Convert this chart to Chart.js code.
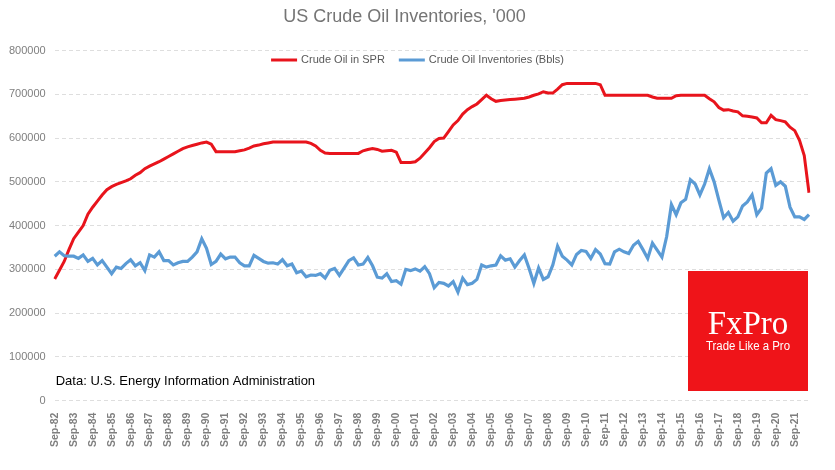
<!DOCTYPE html>
<html>
<head>
<meta charset="utf-8">
<title>US Crude Oil Inventories</title>
<script src="https://cdn.jsdelivr.net/npm/chart.js@4.4.1/dist/chart.umd.min.js"></script>
<style>
  html, body { margin: 0; padding: 0; background: #fff; }
  #wrap { width: 835px; height: 470px; }
</style>
</head>
<body>
<div id="wrap"><canvas id="oilChart"></canvas></div>
<script>
// Year labels shown on the x axis (one per September)
const tickLabels = ['Sep-82', 'Sep-83', 'Sep-84', 'Sep-85', 'Sep-86', 'Sep-87', 'Sep-88', 'Sep-89', 'Sep-90', 'Sep-91',
  'Sep-92', 'Sep-93', 'Sep-94', 'Sep-95', 'Sep-96', 'Sep-97', 'Sep-98', 'Sep-99', 'Sep-00', 'Sep-01',
  'Sep-02', 'Sep-03', 'Sep-04', 'Sep-05', 'Sep-06', 'Sep-07', 'Sep-08', 'Sep-09', 'Sep-10', 'Sep-11',
  'Sep-12', 'Sep-13', 'Sep-14', 'Sep-15', 'Sep-16', 'Sep-17', 'Sep-18', 'Sep-19', 'Sep-20', 'Sep-21'];
const quarterMonths = ['Sep', 'Dec', 'Mar', 'Jun'];

// Quarterly readings, thousand barrels (Sep-82 .. Jun-22)
const sprValues = [
  278000, 298000, 318000, 345000, 370000, 385000, 400000, 426000, 442000, 456000,
  470000, 482000, 489000, 494000, 498000, 502000, 507000, 515000, 521000, 530000,
  536000, 541000, 546000, 552000, 558000, 564000, 570000, 576000, 580000, 583000,
  586000, 589000, 591000, 586000, 569000, 569000, 569000, 569000, 569000, 571000,
  573000, 577000, 582000, 584000, 587000, 589000, 591000, 591000, 591000, 591000,
  591000, 591000, 591000, 591000, 588000, 582000, 572000, 566000, 565000, 565000,
  565000, 565000, 565000, 565000, 565000, 571000, 574000, 576000, 574000, 570000,
  571000, 572000, 568000, 544000, 544000, 544000, 546000, 554000, 566000, 578000,
  592000, 599000, 600000, 615000, 630000, 640000, 655000, 665000, 672000, 678000,
  688000, 698000, 690000, 684000, 686000, 687000, 688000, 689000, 690000, 691000,
  694000, 698000, 701000, 706000, 703000, 703000, 712000, 722000, 725000, 725000,
  725000, 725000, 725000, 725000, 725000, 722000, 698000, 698000, 698000, 698000,
  698000, 698000, 698000, 698000, 698000, 698000, 694000, 691000, 691000, 691000,
  691000, 697000, 698000, 698000, 698000, 698000, 698000, 698000, 690000, 683000,
  670000, 664000, 665000, 662000, 660000, 651000, 650000, 648000, 646000, 635000,
  635000, 652000, 642000, 640000, 637000, 625000, 617000, 595000, 560000, 475000
];
const inventoryValues = [
  330000, 340000, 331000, 330000, 330000, 325000, 333000, 318000, 325000, 310000,
  320000, 305000, 290000, 305000, 302000, 313000, 322000, 308000, 315000, 297000,
  333000, 328000, 340000, 320000, 320000, 310000, 315000, 318000, 318000, 328000,
  340000, 370000, 348000, 311000, 318000, 335000, 324000, 328000, 328000, 315000,
  308000, 308000, 332000, 325000, 318000, 314000, 315000, 312000, 322000, 308000,
  312000, 292000, 296000, 283000, 287000, 286000, 290000, 280000, 298000, 302000,
  286000, 303000, 320000, 326000, 310000, 312000, 327000, 308000, 282000, 280000,
  290000, 272000, 274000, 266000, 300000, 297000, 301000, 296000, 306000, 290000,
  258000, 270000, 268000, 262000, 272000, 248000, 280000, 265000, 268000, 277000,
  310000, 305000, 308000, 310000, 331000, 321000, 324000, 305000, 320000, 333000,
  302000, 268000, 303000, 277000, 283000, 310000, 353000, 330000, 321000, 310000,
  334000, 343000, 341000, 325000, 345000, 335000, 313000, 312000, 340000, 346000,
  340000, 336000, 355000, 364000, 345000, 325000, 360000, 344000, 328000, 375000,
  448000, 425000, 452000, 460000, 505000, 495000, 470000, 495000, 530000, 500000,
  458000, 418000, 430000, 410000, 420000, 445000, 454000, 470000, 425000, 440000,
  520000, 530000, 492000, 500000, 490000, 442000, 420000, 420000, 414000, 425000
];

// Build quarter names for the category axis
const quarterLabels = sprValues.map((v, i) => {
  const yy = (82 + Math.floor(i / 4) + (i % 4 >= 2 ? 1 : 0)) % 100;
  return quarterMonths[i % 4] + '-' + String(yy).padStart(2, '0');
});

const FONT = '"Liberation Sans", Arial, sans-serif';

// Legend inside the plot, source note and the FxPro badge
const overlayPlugin = {
  id: 'overlay',
  afterDraw(chart) {
    const ctx = chart.ctx;
    const area = chart.chartArea;
    ctx.save();

    // legend
    ctx.font = '11px ' + FONT;
    ctx.textBaseline = 'middle';
    const sample = 26, gap = 4, spacing = 14, legendY = 60;
    const items = chart.data.datasets.map(ds => ({ text: ds.label, color: ds.borderColor }));
    const widths = items.map(it => sample + gap + ctx.measureText(it.text).width);
    const total = widths.reduce((a, b) => a + b, 0) + spacing * (items.length - 1);
    let x = chart.width / 2 - total / 2;
    items.forEach((it, i) => {
      ctx.strokeStyle = it.color;
      ctx.lineWidth = 3;
      ctx.beginPath();
      ctx.moveTo(x, legendY);
      ctx.lineTo(x + sample, legendY);
      ctx.stroke();
      ctx.fillStyle = '#595959';
      ctx.textAlign = 'left';
      ctx.fillText(it.text, x + sample + gap, legendY);
      x += widths[i] + spacing;
    });

    // source note
    ctx.fillStyle = '#000';
    ctx.font = '13px ' + FONT;
    ctx.fillText('Data: U.S. Energy Information Administration', area.left + 1, 381, 272);

    // FxPro badge
    ctx.fillStyle = '#ef1419';
    ctx.fillRect(688, 271, 120, 120);
    ctx.fillStyle = '#fff';
    ctx.textAlign = 'center';
    ctx.textBaseline = 'alphabetic';
    ctx.font = '33px "Liberation Serif", "Times New Roman", serif';
    ctx.fillText('FxPro', 748, 334, 86);
    ctx.font = '12px ' + FONT;
    ctx.fillText('Trade Like a Pro', 748, 350, 84);
    ctx.restore();
  }
};

new Chart(document.getElementById('oilChart'), {
  type: 'line',
  data: {
    labels: quarterLabels,
    datasets: [
      {
        label: 'Crude Oil in SPR',
        data: sprValues,
        borderColor: '#e8141c',
        borderWidth: 3,
        pointRadius: 0,
        tension: 0,
        order: 1
      },
      {
        label: 'Crude Oil Inventories (Bbls)',
        data: inventoryValues,
        borderColor: '#5b9bd5',
        borderWidth: 3.2,
        pointRadius: 0,
        tension: 0,
        order: 0
      }
    ]
  },
  options: {
    responsive: true,
    maintainAspectRatio: false,
    animation: false,
    layout: { padding: { left: 0, right: 26, top: 0, bottom: 19 } },
    plugins: {
      legend: { display: false },
      tooltip: { enabled: false },
      title: {
        display: true,
        text: "US Crude Oil Inventories, '000",
        color: '#757575',
        font: { family: FONT, size: 18, weight: 'normal' },
        padding: { top: 6, bottom: 23 }
      }
    },
    scales: {
      x: {
        grid: { display: false },
        border: { display: false },
        ticks: {
          autoSkip: false,
          maxRotation: 90,
          minRotation: 90,
          padding: 4,
          color: '#7f7f7f',
          font: { family: FONT, size: 10.5, weight: 'bold' },
          callback: (v, i) => (i % 4 === 0 ? tickLabels[i / 4] : '')
        }
      },
      y: {
        min: 0,
        max: 800000,
        border: { display: false, dash: [4, 3] },
        grid: { color: '#dedede', lineWidth: 1, drawTicks: false },
        ticks: {
          stepSize: 100000,
          padding: 9,
          color: '#7f7f7f',
          font: { family: FONT, size: 11 },
          callback: v => String(v)
        }
      }
    }
  },
  plugins: [overlayPlugin]
});
</script>
</body>
</html>
